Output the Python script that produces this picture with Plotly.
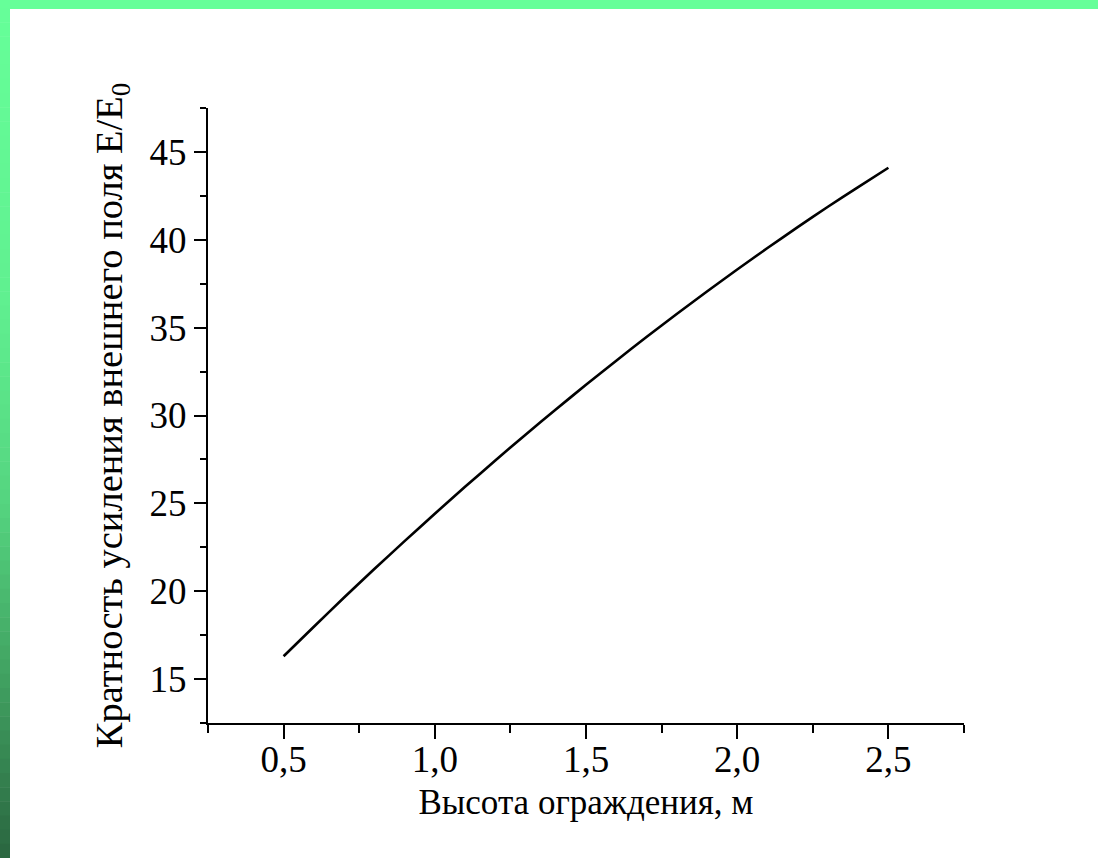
import plotly.graph_objects as go

# Data
height_m = [0.5, 0.6, 0.7, 0.8, 0.9, 1.0, 1.1, 1.2, 1.3, 1.4, 1.5,
            1.6, 1.7, 1.8, 1.9, 2.0, 2.1, 2.2, 2.3, 2.4, 2.5]
gain = [16.30, 17.98, 19.64, 21.26, 22.85, 24.41, 25.94, 27.44, 28.91, 30.34, 31.75,
        33.12, 34.47, 35.78, 37.06, 38.31, 39.53, 40.72, 41.88, 43.00, 44.10]

x_ticks = [0.5, 1.0, 1.5, 2.0, 2.5]
x_tick_labels = ["0,5", "1,0", "1,5", "2,0", "2,5"]
y_ticks = [15, 20, 25, 30, 35, 40, 45]

W, H = 1098, 858
L, R, T, B = 208, 964, 108, 723  # plot area in pixels


def px_x(p):
    return (p - L) / (R - L)


def px_y(p):
    return (B - p) / (B - T)


fig = go.Figure()
fig.add_trace(go.Scatter(x=height_m, y=gain, mode="lines",
                         line=dict(color="black", width=2.6, shape="spline",
                                   smoothing=0.5),
                         showlegend=False))

shapes = []
# top green bar
shapes.append(dict(type="rect", xref="paper", yref="paper",
                   x0=px_x(0), x1=px_x(W + 2), y0=px_y(9), y1=px_y(-2),
                   fillcolor="#66ff99", line=dict(width=0), layer="above"))
# left gradient bar
stops = [(0, (0x66, 0xff, 0x99)), (300, (0x60, 0xf0, 0x90)),
         (500, (0x55, 0xd5, 0x80)), (650, (0x44, 0xaa, 0x66)),
         (858, (0x2a, 0x66, 0x40))]


def color_at(y):
    for (y0, c0), (y1, c1) in zip(stops[:-1], stops[1:]):
        if y0 <= y <= y1:
            t = (y - y0) / (y1 - y0)
            return "rgb(%d,%d,%d)" % tuple(round(a + (b - a) * t) for a, b in zip(c0, c1))
    return "rgb(%d,%d,%d)" % stops[-1][1]


n = 60
for i in range(n):
    ya = 8 + (H - 8) * i / n
    yb = 8 + (H - 8) * (i + 1) / n + 0.5
    shapes.append(dict(type="rect", xref="paper", yref="paper",
                       x0=px_x(-1), x1=px_x(10), y0=px_y(yb), y1=px_y(ya),
                       fillcolor=color_at((ya + yb) / 2), line=dict(width=0),
                       layer="above"))

font_family = "Liberation Serif"

fig.update_layout(
    width=W, height=H,
    margin=dict(l=L, r=W - R, t=T, b=H - B),
    paper_bgcolor="white", plot_bgcolor="white",
    shapes=shapes,
    font=dict(family=font_family, size=34, color="black"),
    xaxis=dict(
        range=[0.25, 2.75], showgrid=False, zeroline=False,
        showline=True, linecolor="black", linewidth=2,
        tickmode="array", tickvals=x_ticks, ticktext=x_tick_labels,
        ticks="outside", ticklen=14, tickwidth=2, tickcolor="black",
        ticklabelstandoff=-11,
        minor=dict(tick0=0.25, dtick=0.25, ticks="outside", ticklen=8,
                   tickwidth=2, tickcolor="black"),
        tickfont=dict(family=font_family, size=37),
        title=dict(text="Высота ограждения, м", standoff=10,
                   font=dict(family=font_family, size=35)),
    ),
    yaxis=dict(
        range=[12.5, 47.5], showgrid=False, zeroline=False,
        showline=True, linecolor="black", linewidth=2,
        tickmode="array", tickvals=y_ticks,
        ticks="outside", ticklen=12, tickwidth=2, tickcolor="black",
        minor=dict(tick0=12.5, dtick=2.5, ticks="outside", ticklen=6,
                   tickwidth=2, tickcolor="black"),
        tickfont=dict(family=font_family, size=37),
        title=dict(text="Кратность усиления внешнего поля E/E<sub>0</sub>",
                   standoff=15, font=dict(family=font_family, size=38.5)),
    ),
)

fig.write_html("out.html",
               config={"displayModeBar": False},
               post_script="document.body.style.margin='0';"
                           "document.body.style.overflow='hidden';")
